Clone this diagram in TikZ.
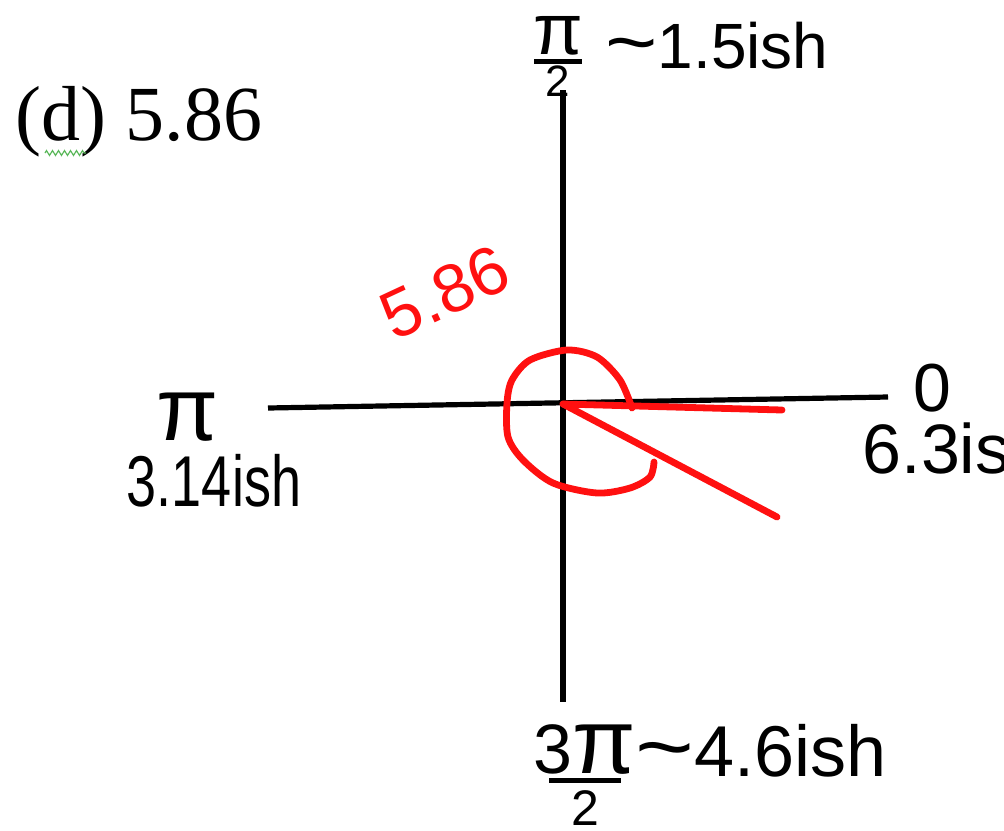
\documentclass[tikz,border=0pt]{standalone}
\usepackage{fontspec}
\usepackage{graphicx}
\setmainfont{Liberation Serif}
\newfontfamily\handfont{Liberation Sans}
\newfontfamily\handnarrow[FakeStretch=0.75]{Liberation Sans}
\usetikzlibrary{positioning,decorations.pathmorphing}
\definecolor{penred}{HTML}{FF1010}
\definecolor{spellgreen}{HTML}{5CB85C}

\begin{document}
\begin{tikzpicture}[
  x=0.5pt, y=-0.5pt,
  hand/.style={font=\handfont\fontsize{32}{32}\selectfont, inner sep=0pt},
  axisline/.style={line width=2.6pt, draw=black},
  redpen/.style={line width=3.4pt, draw=penred, line cap=round, line join=round}
]
\useasboundingbox (0,0) rectangle (1004,830);

% axes
\coordinate (ytop) at (563,90);
\coordinate (ybot) at (563,702);
\coordinate (xleft) at (268,408);
\coordinate (xright) at (888,397);
\coordinate (O) at (563,404);
\draw[axisline] (ytop) -- (ybot);
\draw[axisline] (xleft) -- (xright);

% typed title
\node[font=\fontsize{39}{39}\selectfont, anchor=base west, inner sep=0pt] (title) at (15,140) {(d) 5.86};
\coordinate (squigA) at (45,153);
\coordinate (squigB) at (86,153);
\draw[spellgreen, line width=0.6pt, decorate,
  decoration={zigzag, segment length=3pt, amplitude=1.2pt}] (squigA) -- (squigB);

% axis labels
\node[hand, anchor=south] (halfpi) at (558,97)
  {\shortstack{{\fontsize{36}{36}\selectfont π}\\[-1pt]\rule{24pt}{2.4pt}\\[-2pt]{\fontsize{22}{22}\selectfont 2}}};
\node[hand, anchor=base west] (halfpival) at (605,68) {\scalebox{1.4}[1.2]{\textasciitilde}1.5ish};

\node[hand, font=\handfont\fontsize{45}{45}\selectfont] (pi) at (188,417) {π};
\node[hand, font=\handnarrow\fontsize{36}{36}\selectfont, below=6pt of pi, xshift=13pt] (pival) {3.14ish};

\node[hand, font=\handfont\fontsize{34}{34}\selectfont] (zero) at (932,388) {0};
\node[hand, font=\handfont\fontsize{35}{35}\selectfont, below=5pt of zero, xshift=12pt] (zeroval) {6.3ish};

\node[hand, anchor=south] (threehalfpi) at (585,826)
  {\shortstack{{\fontsize{35}{35}\selectfont 3\fontsize{46}{46}\selectfont π}\\[-1pt]\rule{36pt}{2.4pt}\\[1pt]{\fontsize{25}{25}\selectfont 2}}};
\node[hand, font=\handfont\fontsize{36}{36}\selectfont, anchor=base west] (threehalfpival) at (635,776) {\scalebox{1.4}[1.2]{\textasciitilde}4.6ish};

% red angle
\draw[redpen] (O) -- (782,410);
\draw[redpen] (O) -- (777,517);
\draw[redpen] plot[smooth] coordinates {(632,408) (620,380) (597,357) (567,350) (530,360)
  (512,380) (507,403) (508,437) (523,460) (553,483) (597,493) (630,488) (650,477) (654,462)};
\node[hand, text=penred, font=\handfont\fontsize{34}{34}\selectfont, rotate=25] (redangle) at (445,292) {5.86};
\end{tikzpicture}
\end{document}
